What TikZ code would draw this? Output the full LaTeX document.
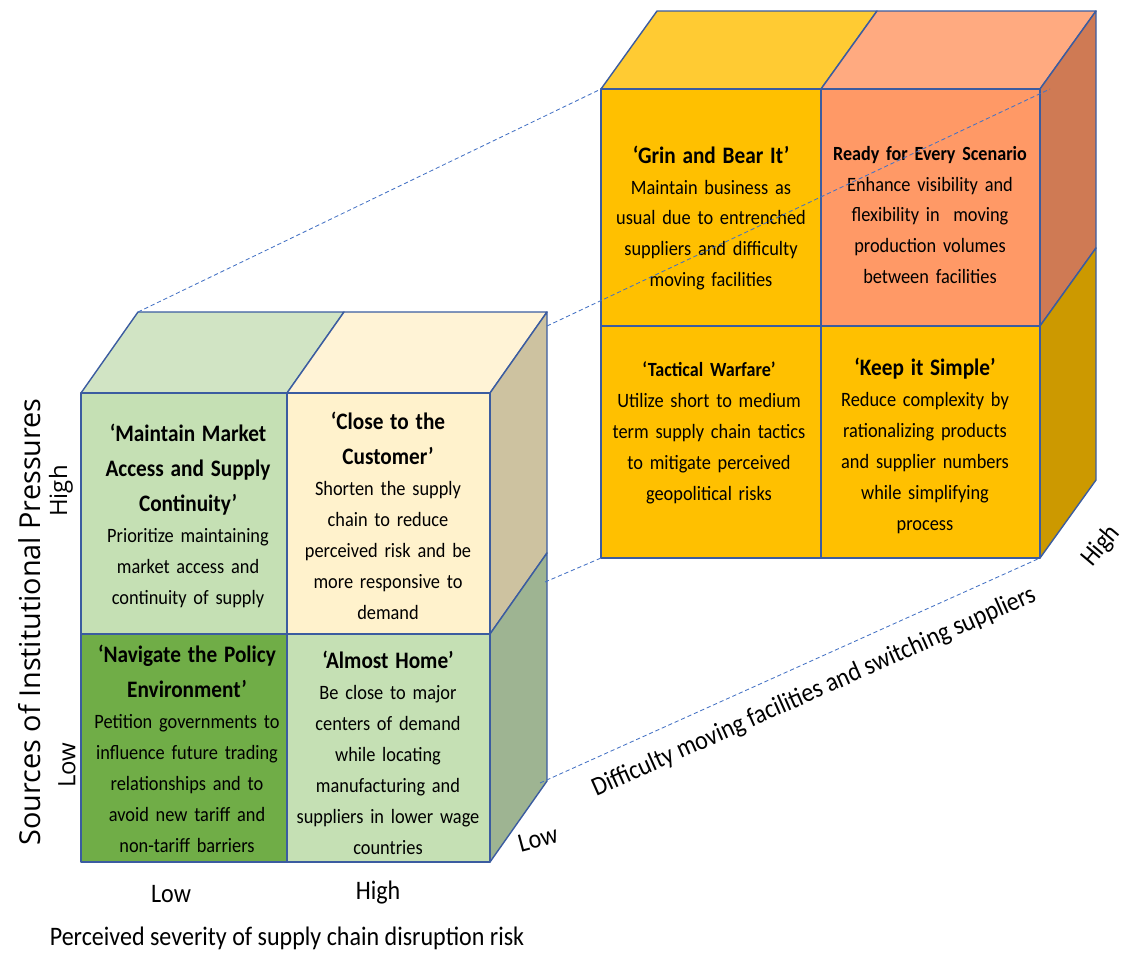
\documentclass[tikz,border=0pt]{standalone}
\usepackage{fontspec}
\setmainfont{Carlito}[FakeStretch=0.9]
\newfontfamily\sidefont{Open Sans}
\usepackage{xcolor}
\usetikzlibrary{calc}

\definecolor{edge}{RGB}{59,92,160}
\definecolor{guide}{RGB}{68,114,196}
\definecolor{mintfront}{RGB}{197,224,180}
\definecolor{minttop}{RGB}{209,228,196}
\definecolor{creamfront}{RGB}{255,242,204}
\definecolor{creamtop}{RGB}{255,243,214}
\definecolor{khakiside}{RGB}{205,194,160}
\definecolor{leaf}{RGB}{112,173,71}
\definecolor{sageside}{RGB}{158,180,146}
\definecolor{goldfront}{RGB}{255,192,0}
\definecolor{goldtop}{RGB}{255,203,51}
\definecolor{goldside}{RGB}{204,153,0}
\definecolor{peachfront}{RGB}{255,153,102}
\definecolor{peachtop}{RGB}{255,170,128}
\definecolor{rustside}{RGB}{207,122,84}

\newcommand{\bodyfont}{\fontsize{14.5}{22}\selectfont}
\newcommand{\titlefont}{\bfseries\fontsize{16.8}{24.9}\selectfont}
\newcommand{\smalltitle}{\bfseries\fontsize{14.3}{22}\selectfont}
\newcommand{\axisfont}{\fontsize{19}{22}\selectfont}
\newcommand{\sideaxis}{\sidefont\fontsize{17}{20}\selectfont}

\begin{document}
\begin{tikzpicture}[x=0.025cm, y=-0.025cm, inner sep=0pt,
		face/.style={draw=edge, line width=1pt, line join=round},
		cell/.style={align=center, text width=5cm, font=\bodyfont},
		dashline/.style={draw=guide, line width=0.6pt, dash pattern=on 3pt off 2pt}]
			\useasboundingbox (0,0) rectangle (1130,954);
			
			% left cube, front grid and back corners
			\coordinate (l00) at (81,393);
			\coordinate (l01) at (287,393);
			\coordinate (l02) at (490,393);
			\coordinate (l10) at (81,634);
			\coordinate (l11) at (287,634);
			\coordinate (l12) at (490,634);
			\coordinate (l20) at (81,862);
			\coordinate (l21) at (287,862);
			\coordinate (l22) at (490,862);
			\coordinate (lb00) at (138,312);
			\coordinate (lb01) at (344,312);
			\coordinate (lb02) at (547,312);
			\coordinate (lb12) at (547,553);
			\coordinate (lb22) at (547,781);
			
			% right cube, front grid and back corners
			\coordinate (r00) at (601,89);
			\coordinate (r01) at (821,89);
			\coordinate (r02) at (1040,89);
			\coordinate (r10) at (601,326);
			\coordinate (r11) at (821,326);
			\coordinate (r12) at (1040,326);
			\coordinate (r20) at (601,558);
			\coordinate (r21) at (821,558);
			\coordinate (r22) at (1040,558);
			\coordinate (rb00) at (657,11);
			\coordinate (rb01) at (877,11);
			\coordinate (rb02) at (1096,11);
			\coordinate (rb12) at (1096,248);
			\coordinate (rb22) at (1096,480);
			
			% left cube faces
			\filldraw[face, fill=minttop] (l00) -- (lb00) -- (lb01) -- (l01) -- cycle;
			\filldraw[face, fill=creamtop] (l01) -- (lb01) -- (lb02) -- (l02) -- cycle;
			\filldraw[face, fill=khakiside] (l02) -- (lb02) -- (lb12) -- (l12) -- cycle;
			\filldraw[face, fill=sageside] (l12) -- (lb12) -- (lb22) -- (l22) -- cycle;
			\filldraw[face, fill=mintfront] (l00) rectangle (l11);
			\filldraw[face, fill=creamfront] (l01) rectangle (l12);
			\filldraw[face, fill=leaf] (l10) rectangle (l21);
			\filldraw[face, fill=mintfront] (l11) rectangle (l22);
			
			% right cube faces
			\filldraw[face, fill=goldtop] (r00) -- (rb00) -- (rb01) -- (r01) -- cycle;
			\filldraw[face, fill=peachtop] (r01) -- (rb01) -- (rb02) -- (r02) -- cycle;
			\filldraw[face, fill=rustside] (r02) -- (rb02) -- (rb12) -- (r12) -- cycle;
			\filldraw[face, fill=goldside] (r12) -- (rb12) -- (rb22) -- (r22) -- cycle;
			\filldraw[face, fill=goldfront] (r00) rectangle (r11);
			\filldraw[face, fill=peachfront] (r01) rectangle (r12);
			\filldraw[face, fill=goldfront] (r10) rectangle (r21);
			\filldraw[face, fill=goldfront] (r11) rectangle (r22);
			
			% quadrant texts
			\node[cell] (market) at (188,516) {{\titlefont ‘Maintain Market\\Access and Supply\\Continuity’\par}Prioritize maintaining\\market access and\\continuity of supply};
			\node[cell] (customer) at (388,516) {{\titlefont ‘Close to the\\Customer’\par}Shorten the supply\\chain to reduce\\perceived risk and be\\more responsive to\\demand};
			\node[cell] (policy) at (187,749) {{\titlefont ‘Navigate the Policy\\Environment’\par}Petition governments to\\influence future trading\\relationships and to\\avoid new tariff and\\non-tariff barriers};
			\node[cell] (home) at (388,753) {{\titlefont ‘Almost Home’\par}Be close to major\\centers of demand\\while locating\\manufacturing and\\suppliers in lower wage\\countries};
			\node[cell] (grin) at (711,218) {{\titlefont ‘Grin and Bear It’\par}Maintain business as\\usual due to entrenched\\suppliers and difficulty\\moving facilities};
			\node[cell] (ready) at (930,215) {{\smalltitle Ready for Every Scenario\par}Enhance visibility and\\flexibility in~ moving\\production volumes\\between facilities};
			\node[cell] (tactical) at (709,433) {{\smalltitle ‘Tactical Warfare’\par}Utilize short to medium\\term supply chain tactics\\to mitigate perceived\\geopolitical risks};
			\node[cell] (simple) at (925,446) {{\titlefont ‘Keep it Simple’\par}Reduce complexity by\\rationalizing products\\and supplier numbers\\while simplifying\\process};
			
			% axis labels
			\node[font=\axisfont] (sevlbl) at (287,938) {Perceived severity of supply chain disruption risk};
			\node[font=\axisfont] (sevlow) at (171,894) {Low};
			\node[font=\axisfont] (sevhigh) at (378,893) {High};
			\node[font=\sideaxis, rotate=90, font=\sidefont\fontsize{20.5}{24}\selectfont] (srclbl) at (30,622) {Sources of Institutional Pressures};
			\node[font=\sideaxis, rotate=90] (srchigh) at (61,491) {High};
			\node[font=\sideaxis, rotate=90] (srclow) at (67,765) {Low};
			\node[font=\axisfont, rotate=24] (difflbl) at (814,692) {Difficulty moving facilities and switching suppliers};
			\node[font=\axisfont, rotate=50] (diffhigh) at (1101,546) {High};
			\node[font=\axisfont, rotate=15] (difflow) at (538,839) {Low};
			
			% dashed guides between the cubes
			\coordinate (g2) at (547,326);
			\coordinate (g2e) at (1050,89);
			\coordinate (g3) at (545,582);
			\coordinate (g4) at (540,783);
			\draw[dashline] (lb00) -- (r00);
			\draw[dashline] (g2) -- (g2e);
			\draw[dashline] (g3) -- (r20);
			\draw[dashline] (g4) -- (r22);
		\end{tikzpicture}
\end{document}
